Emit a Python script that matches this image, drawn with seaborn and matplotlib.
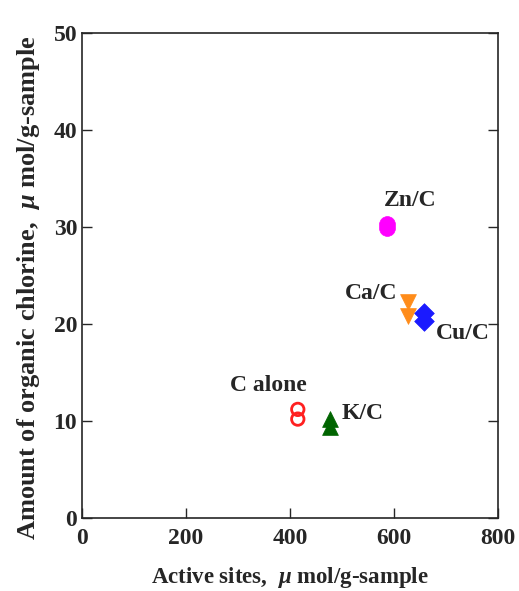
import matplotlib
matplotlib.use("Agg")
import matplotlib.pyplot as plt
import seaborn as sns
import pandas as pd

sns.set_style("ticks")
plt.rcParams['font.family'] = ['Liberation Serif', 'DejaVu Serif']
plt.rcParams['font.weight'] = 'bold'
plt.rcParams['mathtext.fontset'] = 'custom'
plt.rcParams['mathtext.bf'] = 'Liberation Serif:bold:italic'
plt.rcParams['mathtext.it'] = 'Liberation Serif:bold:italic'

samples = ["C alone", "C alone", "K/C", "K/C", "Zn/C", "Zn/C", "Ca/C", "Ca/C", "Cu/C", "Cu/C"]
active_sites = [415, 415, 477, 477, 587, 587, 627, 627, 658, 658]
organic_cl = [11.2, 10.2, 10.2, 9.4, 30.3, 29.9, 22.3, 20.8, 21.1, 20.3]

label_names = ["Zn/C", "Ca/C", "Cu/C", "C alone", "K/C"]
label_x = [631, 556, 733, 358, 540]
label_y = [32.7, 23.1, 19.0, 13.7, 10.8]

df = pd.DataFrame({"sample": samples, "x": active_sites, "y": organic_cl})

colors = {"C alone": "#ff2020", "K/C": "#006400", "Zn/C": "#ff00ff", "Ca/C": "#ff8c1a", "Cu/C": "#1a1aff"}
markers = {"C alone": "o", "K/C": "^", "Zn/C": "o", "Ca/C": "v", "Cu/C": "D"}

fig = plt.figure(figsize=(5.19, 5.91), dpi=100)
ax = fig.add_axes([0.158, 0.1235, 0.8015, 0.8205])

for s in ["Zn/C", "Ca/C", "Cu/C", "K/C"]:
    sub = df[df["sample"] == s]
    sns.scatterplot(data=sub, x="x", y="y", ax=ax, color=colors[s], marker=markers[s],
                    s=130 if s != "Cu/C" else 100, edgecolor=colors[s], linewidth=0.5, legend=False, zorder=3)
sub = df[df["sample"] == "C alone"]
sns.scatterplot(data=sub, x="x", y="y", ax=ax, marker="o", s=80, facecolor="none",
                edgecolor=colors["C alone"], linewidth=2, legend=False, zorder=3)

for name, lx, ly in zip(label_names, label_x, label_y):
    ax.text(lx, ly, name, ha="center", va="center", fontsize=17, fontweight="bold")

ax.set_xlim(0, 800)
ax.set_ylim(0, 50)
ax.set_xticks([0, 200, 400, 600, 800])
ax.set_yticks([0, 10, 20, 30, 40, 50])
ax.tick_params(direction="in", length=7, width=1, labelsize=17, right=True, top=False)
ax.tick_params(axis="x", pad=7)
for lab in ax.get_xticklabels() + ax.get_yticklabels():
    lab.set_fontweight("bold")
for sp in ax.spines.values():
    sp.set_linewidth(1.2)
    sp.set_visible(True)

ax.set_xlabel("Active sites,  $\\mu$ mol/g-sample", fontsize=16.5, fontweight="bold", labelpad=12)
ax.set_ylabel("Amount of organic chlorine,  $\\mu$ mol/g-sample", fontsize=19, fontweight="bold")
ax.yaxis.set_label_coords(-0.097, 0.475)

fig.savefig("out.png", dpi=100)
